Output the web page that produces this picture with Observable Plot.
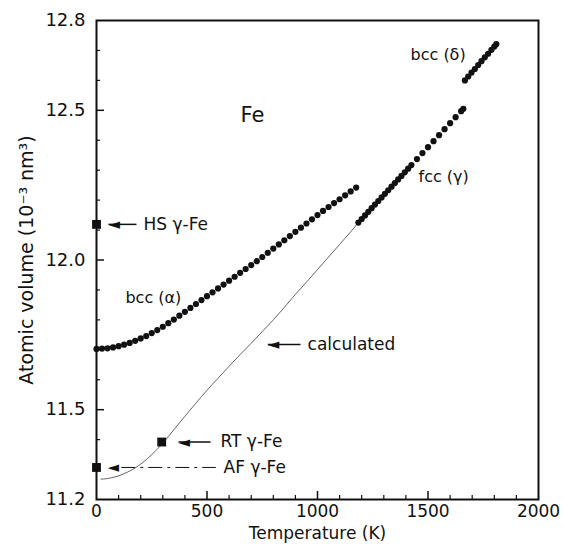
<!DOCTYPE html>
<html><head><meta charset="utf-8">
<script src="https://cdn.jsdelivr.net/npm/d3@7"></script>
<script src="https://cdn.jsdelivr.net/npm/@observablehq/plot@0.6"></script>
<style>body{margin:0;background:#fff}</style>
</head><body><div id="chart"></div>
<script>
// ---- data ----
const bccAlphaT = [0,25,50,75,100,125,150,175,200,225,250,275,300,325,350,375,400,425,450,475,500,525,550,575,600,625,650,675,700,725,750,775,800,825,850,875,900,925,950,975,1000,1025,1050,1075,1100,1125,1150,1175];
const bccAlphaV = [11.703,11.704,11.705,11.708,11.712,11.717,11.723,11.730,11.738,11.746,11.756,11.766,11.777,11.789,11.801,11.814,11.827,11.840,11.853,11.866,11.879,11.892,11.905,11.918,11.931,11.944,11.957,11.970,11.983,11.996,12.010,12.024,12.038,12.052,12.066,12.080,12.094,12.108,12.122,12.136,12.150,12.164,12.177,12.190,12.203,12.216,12.229,12.242];
const fccGammaT = [1185,1200,1215,1230,1245,1260,1275,1290,1305,1320,1335,1350,1365,1380,1395,1410,1425,1450,1475,1500,1525,1550,1575,1600,1625,1650,1660];
const fccGammaV = [12.125,12.137,12.149,12.161,12.173,12.185,12.197,12.209,12.221,12.233,12.245,12.257,12.269,12.281,12.293,12.305,12.317,12.337,12.357,12.377,12.397,12.417,12.437,12.457,12.477,12.497,12.505];
const bccDeltaT = [1667,1682,1697,1712,1727,1742,1757,1772,1787,1800,1809];
const bccDeltaV = [12.600,12.613,12.626,12.638,12.651,12.664,12.677,12.689,12.702,12.713,12.721];
const calcT = [20,50,100,150,200,250,300,350,400,450,500,550,600,650,700,750,800,850,900,950,1000,1050,1100,1150,1185];
const calcV = [11.268,11.270,11.279,11.295,11.318,11.350,11.388,11.433,11.478,11.522,11.565,11.605,11.645,11.684,11.722,11.761,11.800,11.842,11.885,11.926,11.968,12.010,12.052,12.094,12.125];
const gammaPointNames = ["HS γ-Fe","RT γ-Fe","AF γ-Fe"];
const gammaPointT = [0,295,0];
const gammaPointV = [12.119,11.392,11.307];

// annotations (data units)
const arrowLabels = ["HS γ-Fe","RT γ-Fe","calculated"];
const arrowV = [12.119,11.392,11.718];
const arrowTipT = [54,371,775];
const arrowTailT = [181,516,923];
const arrowLabelT = [213,561,955];
const afLabel = "AF γ-Fe";
const afV = 11.307, afTipT = 50, afDashT = [112,540], afLabelT = 575;
const phaseLabels = ["bcc (α)","fcc (γ)","bcc (δ)"];
const phaseLabelT = [131,1457,1421];
const phaseLabelV = [11.875,12.276,12.686];
const elementLabel = "Fe", elementT = 652, elementV = 12.483;

// axes
const xTickLabels = [0,500,1000,1500,2000];
const xMajorTicks = [500,1000,1500];
const xMinorTicks = [100,200,300,400,600,700,800,900,1100,1200,1300,1400,1600,1700,1800,1900];
const yTickLabels = [11.2,11.5,12.0,12.5,12.8];
const yMajorTicks = [11.5,12.0,12.5];
const yMinorTicks = [11.3,11.4,11.6,11.7,11.8,11.9,12.1,12.2,12.3,12.4,12.6,12.7];
const xTitle = "Temperature (K)";
const yTitle = "Atomic volume (10⁻³ nm³)";

// ---- build ----
const W = 564, H = 544, mL = 96, mR = 26, mT = 20, mB = 45;
const innerW = W - mL - mR, innerH = H - mT - mB;
const toPts = (T, V) => T.map((t, i) => ({T: t, V: V[i]}));
const alpha = toPts(bccAlphaT, bccAlphaV);
const gamma = toPts(fccGammaT, fccGammaV);
const delta = toPts(bccDeltaT, bccDeltaV);
const calc = toPts(calcT, calcV);
const squares = gammaPointNames.map((n, i) => ({n, T: gammaPointT[i], V: gammaPointV[i]}));
const arrows = arrowLabels.map((l, i) => ({l, V: arrowV[i], tip: arrowTipT[i], tail: arrowTailT[i], lt: arrowLabelT[i]}));
const phases = phaseLabels.map((l, i) => ({l, T: phaseLabelT[i], V: phaseLabelV[i]}));
const ink = "#111";

const chart = Plot.plot({
  width: W, height: H,
  marginLeft: mL, marginRight: mR, marginTop: mT, marginBottom: mB,
  style: {fontFamily: "DejaVu Sans", fontSize: "18px", background: "white", color: ink},
  x: {domain: [0, 2000]},
  y: {domain: [11.2, 12.8]},
  marks: [
    Plot.tickX(xMinorTicks, {x: d => d, insetTop: innerH - 4, stroke: ink, strokeWidth: 1.2}),
    Plot.tickX(xMajorTicks, {x: d => d, insetTop: innerH - 8, stroke: ink, strokeWidth: 1.5}),
    Plot.tickY(yMinorTicks, {y: d => d, insetRight: innerW - 4, stroke: ink, strokeWidth: 1.2}),
    Plot.tickY(yMajorTicks, {y: d => d, insetRight: innerW - 8, stroke: ink, strokeWidth: 1.5}),
    Plot.axisX({ticks: xTickLabels, tickSize: 0, tickPadding: 5, fontSize: 17, label: null, tickFormat: d3.format("d")}),
    Plot.axisY({ticks: yTickLabels, tickSize: 0, tickPadding: 11, fontSize: 18, label: null, tickFormat: d3.format(".1f")}),
    Plot.frame({stroke: ink, strokeWidth: 2}),
    Plot.text([xTitle], {frameAnchor: "bottom", textAnchor: "middle", dy: 39, fontSize: 17, text: d => d, fill: ink}),
    Plot.text([yTitle], {frameAnchor: "left", textAnchor: "middle", dx: -70, rotate: -90, fontSize: 19, text: d => d, fill: ink}),
    // calculated curve
    Plot.line(calc, {x: "T", y: "V", curve: "monotone-x", stroke: "#555", strokeWidth: 0.9}),
    // data
    Plot.dot(alpha, {x: "T", y: "V", r: 3.1, fill: ink}),
    Plot.dot(gamma, {x: "T", y: "V", r: 3.1, fill: ink}),
    Plot.dot(delta, {x: "T", y: "V", r: 3.1, fill: ink}),
    Plot.dot(squares, {x: "T", y: "V", symbol: "square", r: 5, fill: ink}),
    // arrows
    Plot.link(arrows, {x1: "tip", x2: "tail", y1: "V", y2: "V", stroke: ink, strokeWidth: 1.5}),
    Plot.text(arrows, {x: "tip", y: "V", text: () => "◄", textAnchor: "start", fontSize: 15, fill: ink}),
    Plot.text(arrows, {x: "lt", y: "V", text: "l", textAnchor: "start", fontSize: 17, fill: ink}),
    Plot.link([afV], {x1: afDashT[0], x2: afDashT[1], y1: d => d, y2: d => d, stroke: ink, strokeWidth: 1, strokeDasharray: "14,5,3,5"}),
    Plot.text([afV], {x: afTipT, y: d => d, text: () => "◄", textAnchor: "start", fontSize: 15, fill: ink}),
    Plot.text([afV], {x: afLabelT, y: d => d, text: () => afLabel, textAnchor: "start", fontSize: 17, fill: ink}),
    // labels
    Plot.text(phases, {x: "T", y: "V", text: "l", textAnchor: "start", fontSize: 16, fill: ink}),
    Plot.text([elementLabel], {x: elementT, y: elementV, text: d => d, textAnchor: "start", fontSize: 21, fill: ink})
  ]
});
document.getElementById("chart").appendChild(chart);
</script>
</body></html>
